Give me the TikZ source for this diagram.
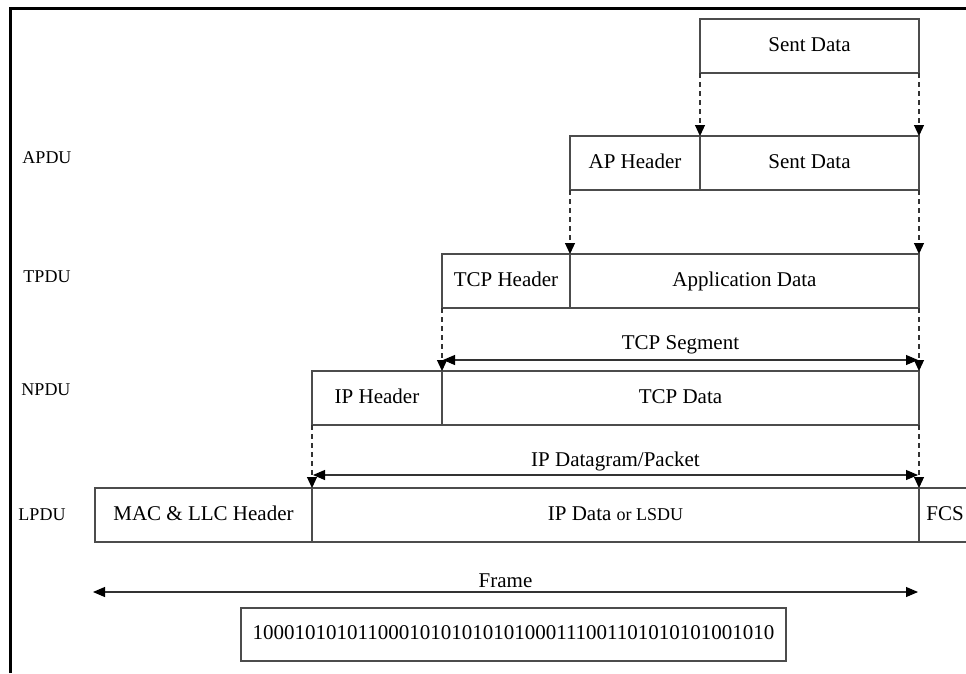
\documentclass[tikz,border=0pt]{standalone}
\usepackage{fontspec}
\setmainfont{Liberation Serif}
\usetikzlibrary{arrows.meta, positioning}

\begin{document}
\begin{tikzpicture}[
    x=1pt, y=-1pt,
    cell/.style={draw=black!70, line width=1.1pt, minimum height=54pt,
                 inner sep=0pt, outer sep=0pt, text height=14pt, text depth=4pt,
                 font=\fontsize{21}{25}\selectfont},
    pdu/.style={font=\fontsize{18}{22}\selectfont},
    fall/.style={line width=1.1pt, draw=black!80, dash pattern=on 5pt off 4pt,
                 -{Triangle[length=11pt, width=10pt, color=black]}},
    extent/.style={line width=1.1pt, draw=black!80,
                   {Triangle[length=12pt, width=10pt, color=black]}-{Triangle[length=12pt, width=10pt, color=black]}},
    tag/.style={font=\fontsize{21}{25}\selectfont}
  ]
  \useasboundingbox (0,0) rectangle (966,673);
  \draw[line width=3pt] (10,673) -- (10,8) -- (966,8);

  % layer names
  \node[pdu] (apdu) at (47,158) {APDU};
  \node[pdu] (tpdu) at (47,277) {TPDU};
  \node[pdu] (npdu) at (46,390) {NPDU};
  \node[pdu] (lpdu) at (42,515) {LPDU};

  % user data
  \node[cell, minimum width=219pt, anchor=north west] (sent) at (700,19) {Sent Data};

  % application
  \node[cell, minimum width=130pt, anchor=north west] (aphdr) at (570,136) {AP Header};
  \node[cell, minimum width=219pt, right=0pt of aphdr] (apdata) {Sent Data};

  % transport
  \node[cell, minimum width=128pt, anchor=north west] (tcphdr) at (442,254) {TCP Header};
  \node[cell, minimum width=349pt, right=0pt of tcphdr] (appdata) {Application Data};

  % network
  \node[cell, minimum width=130pt, anchor=north west] (iphdr) at (312,371) {IP Header};
  \node[cell, minimum width=477pt, right=0pt of iphdr] (tcpdata) {TCP Data};

  % link
  \node[cell, minimum width=217pt, anchor=north west] (machdr) at (95,488) {MAC \& LLC Header};
  \node[cell, minimum width=607pt, right=0pt of machdr] (ipdata)
    {IP Data {\fontsize{18}{22}\selectfont or LSDU}};
  \node[cell, minimum width=52pt, right=0pt of ipdata] (fcs) {FCS};

  % encapsulation
  \draw[fall] (sent.south west) -- (apdata.north west);
  \draw[fall] (sent.south east) -- (apdata.north east);
  \draw[fall] (aphdr.south west) -- (appdata.north west);
  \draw[fall] (apdata.south east) -- (appdata.north east);
  \draw[fall] (tcphdr.south west) -- (tcpdata.north west);
  \draw[fall] (appdata.south east) -- (tcpdata.north east);
  \draw[fall] (iphdr.south west) -- (ipdata.north west);
  \draw[fall] (tcpdata.south east) -- (ipdata.north east);

  % spans
  \coordinate (segL) at (443,360);
  \coordinate (segR) at (918,360);
  \draw[extent] (segL) -- (segR)
    node[tag, midway, above=2pt] (seg) {TCP Segment};
  \coordinate (pktL) at (313,475);
  \coordinate (pktR) at (918,475);
  \draw[extent] (pktL) -- (pktR)
    node[tag, midway, above=0pt] (pkt) {IP Datagram/Packet};
  \coordinate (frmL) at (93,592);
  \coordinate (frmR) at (918,592);
  \draw[extent] (frmL) -- (frmR)
    node[tag, midway, above=0pt] (frm) {Frame};

  \node[cell, minimum width=545pt, minimum height=53pt] (bits) at (513.5,634.5)
    {10001010101100010101010101000111001101010101001010};
\end{tikzpicture}
\end{document}
